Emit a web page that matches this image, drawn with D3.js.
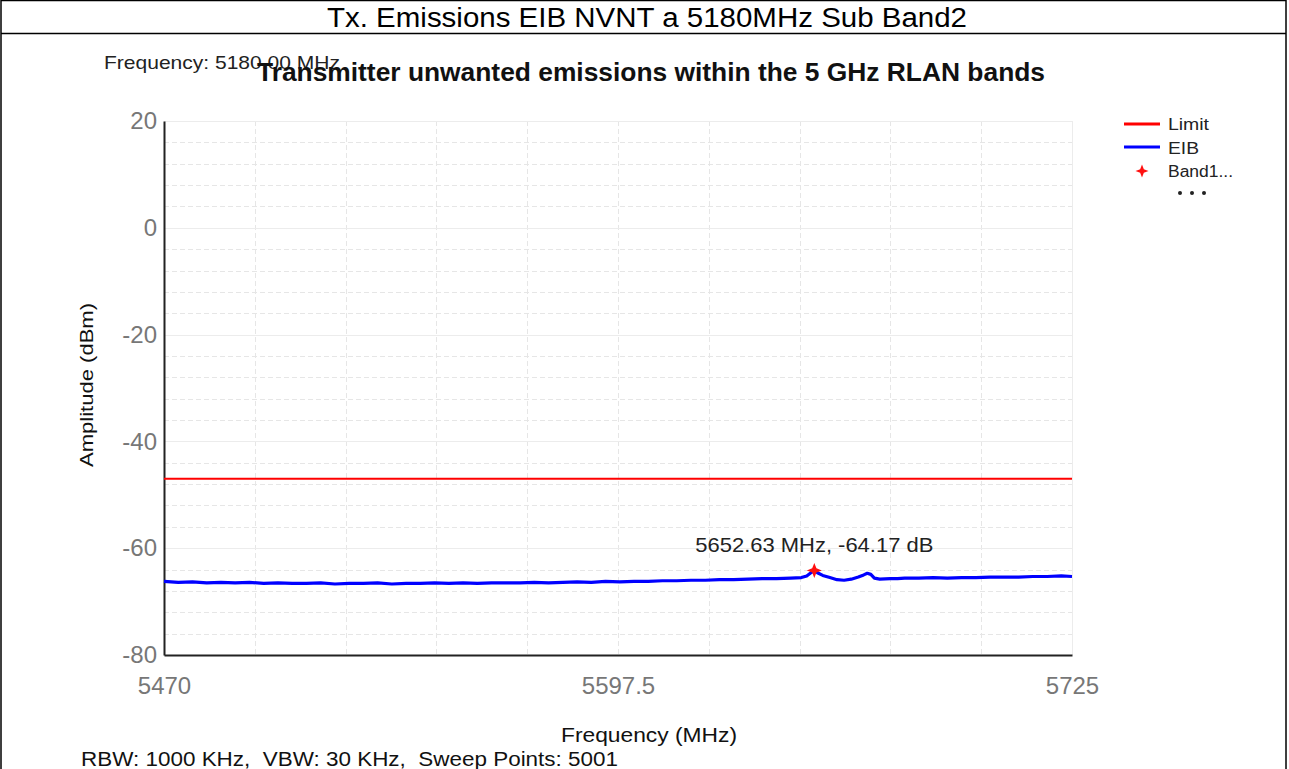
<!DOCTYPE html>
<html><head><meta charset="utf-8">
<script src="https://cdn.jsdelivr.net/npm/d3@7"></script>
<style>
html,body{margin:0;padding:0;background:#fff;}
svg{display:block;font-family:"Liberation Sans",Arial,sans-serif;}
text{white-space:pre;}
</style></head>
<body>
<svg id="c" width="1289" height="769"></svg>
<script>
const pageTitle = "Tx. Emissions EIB NVNT a 5180MHz Sub Band2";
const chartTitle = "Transmitter unwanted emissions within the 5 GHz RLAN bands";
const freqNote = "Frequency: 5180.00 MHz";
const footNote = "RBW: 1000 KHz,  VBW: 30 KHz,  Sweep Points: 5001";
const xTicks = [5470, 5597.5, 5725];
const yTicks = [20, 0, -20, -40, -60, -80];
const limitValue = -47;
const peak = {f: 5652.63, a: -64.17, label: "5652.63 MHz, -64.17 dB"};
const legendItems = ["Limit", "EIB", "Band1..."];
const eibFreq = [5470,5474,5478,5482,5486,5490,5494,5498,5502,5506,5510,5514,5518,5522,5526,5530,5534,5538,5542,5546,5550,5554,5558,5562,5566,5570,5574,5578,5582,5586,5590,5594,5598,5602,5606,5610,5614,5618,5622,5626,5630,5634,5638,5642,5646,
 5649,5650.5,5651.5,5652.63,5653.5,5655,5657,5659,5661,5663,5665,5666.5,5667.5,5668.5,5669.5,5671,5674,5676,5678,
 5682,5686,5690,5694,5698,5702,5706,5710,5714,5718,5722,5725];
const eibAmp = [-66.2,-66.4,-66.3,-66.5,-66.4,-66.5,-66.4,-66.6,-66.5,-66.6,
 -66.6,-66.5,-66.7,-66.6,-66.6,-66.5,-66.7,-66.6,-66.6,-66.5,
 -66.6,-66.5,-66.6,-66.5,-66.5,-66.5,-66.4,-66.5,-66.4,-66.3,
 -66.4,-66.2,-66.3,-66.2,-66.2,-66.1,-66.1,-66.0,-66.0,-65.9,
 -65.9,-65.8,-65.7,-65.7,-65.6,
 -65.5,-65.2,-64.7,-64.17,-64.6,-65.1,-65.5,-65.9,-66.0,-65.8,-65.4,-65.0,-64.7,-64.9,-65.6,-65.8,-65.7,-65.7,-65.6,
 -65.6,-65.5,-65.6,-65.5,-65.5,-65.4,-65.4,-65.4,-65.3,-65.3,-65.2,-65.3];

const svg = d3.select("#c");
svg.append("rect").attr("x",1).attr("y",0.5).attr("width",1285).attr("height",780)
  .attr("fill","none").attr("stroke","#000").attr("stroke-width",1.5);
svg.append("line").attr("x1",1).attr("x2",1286).attr("y1",33.5).attr("y2",33.5).attr("stroke","#000").attr("stroke-width",1.5);
svg.append("text").attr("x",647).attr("y",27).attr("text-anchor","middle")
  .attr("font-size",27).attr("fill","#000").attr("textLength",640).attr("lengthAdjust","spacingAndGlyphs").text(pageTitle);

const L=164,R=1072,T=121,B=655;
const x = d3.scaleLinear().domain([5470,5725]).range([L,R]);
const y = d3.scaleLinear().domain([-80,20]).range([B,T]);

const g = svg.append("g");
const minorY = d3.range(-80,21,4).filter(v=>v%20!==0);
g.selectAll(".hm").data(minorY).join("line")
  .attr("x1",L).attr("x2",R).attr("y1",d=>Math.round(y(d))+0.5).attr("y2",d=>Math.round(y(d))+0.5)
  .attr("stroke","#e6e6e6").attr("stroke-dasharray","5,3");
const vx = d3.range(1,10).map(i=>5470+i*25.5);
g.selectAll(".vg").data(vx).join("line")
  .attr("x1",d=>Math.round(x(d))+0.5).attr("x2",d=>Math.round(x(d))+0.5).attr("y1",T).attr("y2",B)
  .attr("stroke","#e6e6e6").attr("stroke-dasharray","5,3");
g.selectAll(".hM").data(yTicks.filter(v=>v>-80)).join("line")
  .attr("x1",L).attr("x2",R).attr("y1",d=>Math.round(y(d))+0.5).attr("y2",d=>Math.round(y(d))+0.5)
  .attr("stroke","#ececec");
g.append("line").attr("x1",R+0.5).attr("x2",R+0.5).attr("y1",T).attr("y2",B).attr("stroke","#ececec");

const yAxis = d3.axisLeft(y).tickValues(yTicks).tickSize(0).tickPadding(7).tickFormat(d=>String(d));
const ya = svg.append("g").attr("transform",`translate(${L},0)`).call(yAxis);
ya.select(".domain").attr("stroke","#222").attr("stroke-width",2);
ya.selectAll("text").attr("font-size",24).attr("fill","#777").attr("font-family","Liberation Sans, Arial");
const xAxis = d3.axisBottom(x).tickValues(xTicks).tickSize(0).tickPadding(22).tickFormat(d=>String(d));
const xa = svg.append("g").attr("transform",`translate(0,${B})`).call(xAxis);
xa.select(".domain").attr("stroke","#222").attr("stroke-width",2);
xa.selectAll("text").attr("font-size",24).attr("fill","#777").attr("font-family","Liberation Sans, Arial");

svg.append("line").attr("x1",L).attr("x2",R).attr("y1",y(limitValue)).attr("y2",y(limitValue))
  .attr("stroke","#ff0000").attr("stroke-width",2);
const pts = eibFreq.map((f,i)=>[f,eibAmp[i]]);
svg.append("path").datum(pts).attr("fill","none").attr("stroke","#0000ff").attr("stroke-width",3.2)
  .attr("stroke-linejoin","round")
  .attr("d",d3.line().x(d=>x(d[0])).y(d=>y(d[1])));

function star4(cx,cy,r,ri){
  let p=[];
  for(let i=0;i<8;i++){const a=i*Math.PI/4 - Math.PI/2; const rr=i%2?ri:r; p.push([cx+rr*Math.cos(a),cy+rr*Math.sin(a)]);}
  return "M"+p.map(q=>q.join(",")).join("L")+"Z";
}
svg.append("path").attr("d",star4(x(peak.f),y(peak.a),7.5,3)).attr("fill","#ff1010");
svg.append("text").attr("x",x(peak.f)).attr("y",552).attr("text-anchor","middle")
  .attr("font-size",21).attr("fill","#222").attr("textLength",238).attr("lengthAdjust","spacingAndGlyphs").text(peak.label);

svg.append("text").attr("x",104).attr("y",69).attr("font-size",19).attr("fill","#222")
  .attr("textLength",236).attr("lengthAdjust","spacingAndGlyphs").text(freqNote);
svg.append("text").attr("x",257).attr("y",81).attr("font-weight","bold")
  .attr("font-size",25).attr("fill","#111").attr("textLength",788).attr("lengthAdjust","spacingAndGlyphs").text(chartTitle);
svg.append("text").attr("x",561).attr("y",742).attr("font-size",20).attr("fill","#111")
  .attr("textLength",176).attr("lengthAdjust","spacingAndGlyphs").text("Frequency (MHz)");
svg.append("text").attr("transform","translate(93,467) rotate(-90)").attr("font-size",18).attr("fill","#111")
  .attr("textLength",164).attr("lengthAdjust","spacingAndGlyphs").text("Amplitude (dBm)");
svg.append("text").attr("x",81).attr("y",766).attr("font-size",20).attr("fill","#111")
  .attr("textLength",537).attr("lengthAdjust","spacingAndGlyphs").text(footNote);

const lg = svg.append("g");
lg.append("line").attr("x1",1124).attr("x2",1160).attr("y1",124).attr("y2",124).attr("stroke","#ff0000").attr("stroke-width",3);
lg.append("line").attr("x1",1124).attr("x2",1160).attr("y1",147).attr("y2",147).attr("stroke","#0000ff").attr("stroke-width",3);
lg.append("path").attr("d",star4(1142,171,6.5,2.6)).attr("fill","#ff1010");
const legW = [41,31,65];
lg.selectAll("text").data(legendItems).join("text").attr("x",1168).attr("y",(d,i)=>130+i*23.5)
  .attr("font-size",16).attr("fill","#222").attr("textLength",(d,i)=>legW[i]).attr("lengthAdjust","spacingAndGlyphs").text(d=>d);
lg.selectAll("circle").data([1180,1192,1204]).join("circle").attr("cx",d=>d).attr("cy",193).attr("r",2).attr("fill","#222");
</script>
</body></html>
